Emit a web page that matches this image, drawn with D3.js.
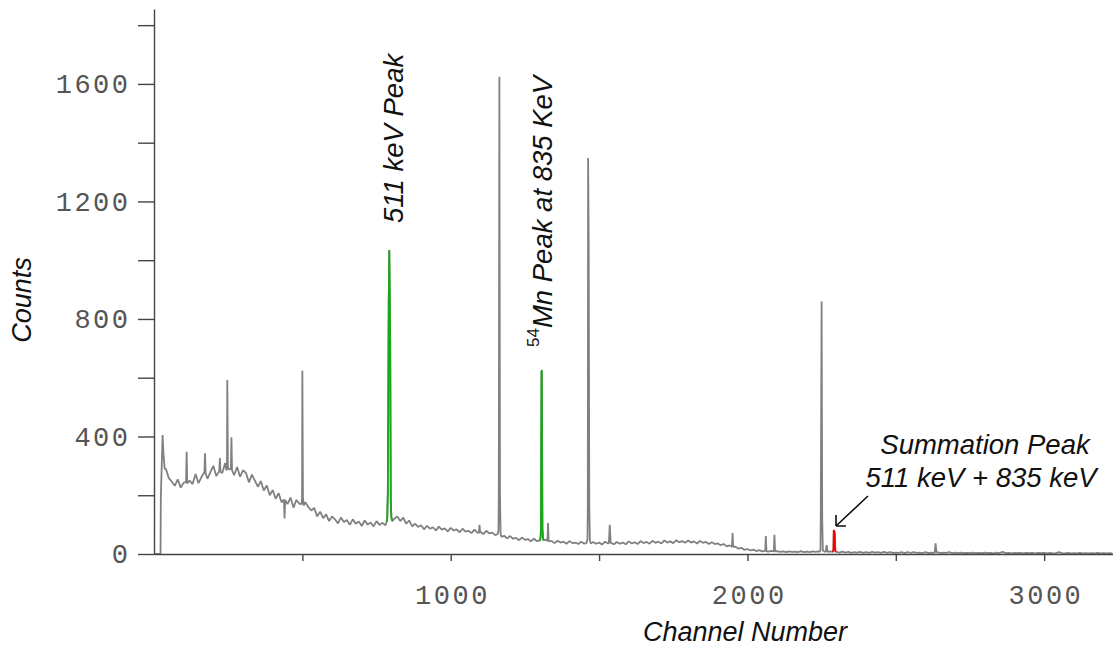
<!DOCTYPE html>
<html>
<head>
<meta charset="utf-8">
<script src="https://cdn.jsdelivr.net/npm/d3@7"></script>
<style>
  body { margin: 0; background: #fff; }
  text { font-family: "Liberation Sans", Arial, sans-serif; }
</style>
</head>
<body>
<svg id="chart" width="1113" height="646"></svg>
<script>
// continuum, one value every 10 channels starting at channel 0
var bgStep = 10;
var bgCounts = [
  0, 0, 0, 330,
  290, 258, 246, 232, 254, 226, 243, 221, 250, 238, 272, 241, 262, 284, 256, 279,
  300, 265, 292, 276, 310, 282, 301, 268, 296, 263, 285, 276, 244, 270, 250, 229,
  248, 216, 233, 200, 218, 188, 207, 176, 195, 170, 192, 158, 184, 171, 150, 176,
  160, 148, 157, 128, 144, 122, 135, 112, 128, 118, 104, 124, 109, 116, 99, 118,
  103, 111, 95, 114, 100, 107, 94, 112, 99, 106, 98, 110, 112, 120, 128, 112,
  124, 103, 114, 94, 103, 92, 98, 84, 96, 86, 91, 80, 93, 83, 87, 77,
  89, 80, 84, 74, 86, 76, 79, 71, 83, 73, 76, 68, 79, 70, 73, 64,
  71, 60, 62, 53, 61, 52, 55, 47, 56, 48, 51, 43, 52, 44, 46, 42,
  49, 41, 44, 37, 45, 39, 42, 35, 44, 37, 39, 34, 42, 35, 38, 32,
  41, 35, 39, 32, 42, 36, 38, 33, 41, 35, 39, 33, 43, 36, 40, 34,
  44, 37, 41, 35, 45, 38, 42, 36, 46, 39, 43, 37, 47, 40, 44, 38,
  46, 39, 43, 36, 44, 38, 41, 34, 40, 34, 36, 30, 34, 26, 29, 21,
  25, 18, 21, 14, 17, 12, 15, 10, 13, 9, 12, 8, 11, 7, 10,
  7, 9, 6, 9, 7, 8, 6, 10, 6, 8,
  6, 9, 7, 9, 8, 8, 6, 9, 5, 7,
  5, 8, 5, 7, 4, 6, 5, 7, 4, 6,
  4, 7, 5, 6, 4, 7, 4, 6, 4, 5,
  4, 6, 3, 6, 4, 6, 4, 5, 3, 6,
  3, 5, 4, 6, 3, 5, 4, 6, 3, 5,
  3, 5, 3, 4, 3, 5, 3, 4, 3, 5,
  3, 4, 2, 5, 3, 7, 3, 4, 2, 4,
  3, 4, 2, 4, 3, 4, 2, 4, 3, 4,
  2, 4, 2, 3, 6, 3, 2, 4, 2, 3,
  2, 4, 2, 3, 2, 3, 2, 4, 2, 3,
  2, 3, 2
];

// peaks as [channel, counts] points, they replace the continuum over their span
var peaks = [
  [[22, 0], [23, 195], [29, 405], [32, 340], [36, 290]],
  [[108, 245], [110, 348], [112, 240]],
  [[170, 278], [172, 343], [174, 275]],
  [[220, 282], [222, 327], [224, 280]],
  [[244, 285], [246, 300], [247, 592], [249, 300], [251, 288]],
  [[259, 290], [261, 397], [263, 285]],
  [[438, 185], [440, 121], [442, 184]],
  [[497, 170], [499, 190], [500, 624], [502, 195], [504, 165]],
  [[784, 110], [786, 120], [788, 205], [791, 848], [793, 1035], [796, 724], [798, 180], [800, 125], [803, 112]],
  [[1095, 72], [1097, 99], [1099, 72]],
  [[1158, 68], [1161, 80], [1162, 208], [1164, 1624], [1166, 208], [1168, 70], [1171, 58]],
  [[1301, 46], [1303, 58], [1304, 87], [1306, 624], [1307, 624], [1309, 87], [1311, 55], [1313, 46]],
  [[1326, 44], [1328, 105], [1330, 44]],
  [[1458, 38], [1461, 50], [1462, 166], [1463, 1348], [1465, 1055], [1467, 166], [1469, 45], [1472, 36]],
  [[1533, 38], [1536, 99], [1539, 36]],
  [[1948, 25], [1950, 71], [1952, 24]],
  [[2060, 11], [2062, 61], [2064, 10]],
  [[2089, 9], [2091, 65], [2093, 9]],
  [[2243, 8], [2246, 10], [2247, 116], [2250, 859], [2252, 120], [2254, 14], [2256, 10]],
  [[2264, 8], [2267, 30], [2270, 7]],
  [[2288, 7], [2290, 15], [2291, 82], [2294, 72], [2296, 12], [2298, 7]],
  [[2631, 5], [2634, 36], [2637, 5]]
];

var greenRanges = [[784, 803], [1301, 1313]];
var redRanges = [[2288, 2298]];

var yTicks = [0, 200, 400, 600, 800, 1000, 1200, 1400, 1600, 1800];
var yLabels = [0, 400, 800, 1200, 1600];
var xTicks = [500, 1000, 1500, 2000, 2500, 3000];
var xLabels = [1000, 2000, 3000];

var svg = d3.select("#chart");

var x = d3.scaleLinear().domain([0, 3232]).range([154, 1113]);
var y = d3.scaleLinear().domain([0, 1855]).range([554, 9]);

// merge continuum and peaks
var spectrum = [];
bgCounts.forEach(function(c, i) {
  var ch = i * bgStep;
  var inPeak = peaks.some(function(p) { return ch >= p[0][0] && ch <= p[p.length - 1][0]; });
  if (!inPeak) spectrum.push([ch, c]);
});
peaks.forEach(function(p) { p.forEach(function(pt) { spectrum.push(pt); }); });
spectrum.sort(function(a, b) { return a[0] - b[0]; });

var line = d3.line()
  .x(function(d) { return x(d[0]); })
  .y(function(d) { return y(d[1]); });

svg.append("path")
  .datum(spectrum)
  .attr("fill", "none")
  .attr("stroke", "#808080")
  .attr("stroke-width", 1.8)
  .attr("stroke-linejoin", "bevel")
  .attr("d", line);

function overlay(ranges, color) {
  ranges.forEach(function(r) {
    svg.append("path")
      .datum(spectrum.filter(function(d) { return d[0] >= r[0] && d[0] <= r[1]; }))
      .attr("fill", "none")
      .attr("stroke", color)
      .attr("stroke-width", 1.8)
      .attr("stroke-linejoin", "bevel")
      .attr("d", line);
  });
}
overlay(greenRanges, "#18a818");
overlay(redRanges, "#ff0000");

// axes
var yAxis = svg.append("g")
  .attr("transform", "translate(154,0)")
  .call(d3.axisLeft(y)
    .tickValues(yTicks)
    .tickSize(16)
    .tickSizeOuter(0)
    .tickPadding(7.5)
    .tickFormat(function(d) { return yLabels.indexOf(d) >= 0 ? d : ""; }));

var xAxis = svg.append("g")
  .attr("transform", "translate(0,554)")
  .call(d3.axisBottom(x)
    .tickValues(xTicks)
    .tickSize(7)
    .tickSizeOuter(0)
    .tickPadding(24)
    .tickFormat(function(d) { return xLabels.indexOf(d) >= 0 ? d : ""; }));

[yAxis, xAxis].forEach(function(g) {
  g.select(".domain").attr("stroke", "#444").attr("stroke-width", 1.4);
  g.selectAll(".tick line").attr("stroke", "#444").attr("stroke-width", 1.4);
  g.selectAll(".tick text")
    .attr("fill", "#555")
    .style("font-family", "'Courier New', 'Liberation Mono', monospace")
    .style("font-size", "27px")
    .style("letter-spacing", "2.5px");
});
xAxis.selectAll(".tick text").attr("dx", 1.25);

// axis titles
svg.append("text")
  .attr("transform", "translate(31,300) rotate(-90)")
  .attr("text-anchor", "middle")
  .style("font-style", "italic")
  .style("font-size", "27px")
  .attr("fill", "#111")
  .text("Counts");

svg.append("text")
  .attr("x", 745)
  .attr("y", 641)
  .attr("text-anchor", "middle")
  .style("font-style", "italic")
  .style("font-size", "27px")
  .attr("fill", "#111")
  .text("Channel Number");

// annotations
svg.append("text")
  .attr("transform", "translate(403,223) rotate(-90)")
  .style("font-style", "italic")
  .style("font-size", "27.5px")
  .attr("fill", "#111")
  .text("511 keV Peak");

var mn = svg.append("text")
  .attr("transform", "translate(552,347) rotate(-90)")
  .style("font-style", "italic")
  .style("font-size", "27.5px")
  .attr("fill", "#111");
mn.append("tspan").attr("dy", -13).style("font-size", "17px").style("font-style", "normal").text("54");
mn.append("tspan").attr("dy", 13).text("Mn Peak at 835 KeV");

var sumNote = svg.append("text")
  .attr("text-anchor", "middle")
  .style("font-style", "italic")
  .style("font-size", "27.5px")
  .attr("fill", "#111");
sumNote.append("tspan").attr("x", 985).attr("y", 454).text("Summation Peak");
sumNote.append("tspan").attr("x", 981).attr("y", 487).text("511 keV + 835 keV");

svg.append("path")
  .attr("d", "M868,496 L836,526 M836,526 L846,526 M836,526 L836,515")
  .attr("fill", "none")
  .attr("stroke", "#111")
  .attr("stroke-width", 1.6);
</script>
</body>
</html>
